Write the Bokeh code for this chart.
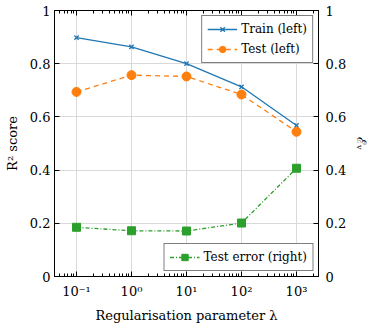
from bokeh.plotting import figure
from bokeh.models import (Range1d, LinearAxis, LogAxis, FixedTicker, CustomJSTickFormatter,
                          Legend, LegendItem)
from bokeh.embed import file_html
from bokeh.resources import INLINE

lam = [0.1, 1, 10, 100, 1000]
train = [0.898, 0.863, 0.800, 0.713, 0.568]
test = [0.694, 0.757, 0.752, 0.684, 0.544]
err = [0.185, 0.172, 0.171, 0.201, 0.407]
y_ticks = [0, 0.2, 0.4, 0.6, 0.8, 1.0]

FONT = "DejaVu Serif"
BLUE, ORANGE, GREEN = "#1f77b4", "#ff7f0e", "#2ca02c"

p = figure(x_axis_type="log", x_range=Range1d(10 ** -1.4, 10 ** 3.4), y_range=Range1d(0, 1),
           width=372, height=325, min_border_left=54, min_border_right=53,
           min_border_top=10, min_border_bottom=48,
           output_backend="svg", toolbar_location=None)
p.extra_y_ranges = {"right": Range1d(0, 1)}
p.outline_line_color = "black"
p.outline_line_alpha = 1.0

minor = [m * 10 ** k for k in range(-2, 4) for m in range(2, 10)]
xt = FixedTicker(ticks=lam, minor_ticks=minor)
yt = FixedTicker(ticks=y_ticks)

sup_js = """
const sup = {'-':'\u207b','0':'\u2070','1':'\u00b9','2':'\u00b2','3':'\u00b3','4':'\u2074','5':'\u2075','6':'\u2076','7':'\u2077','8':'\u2078','9':'\u2079'};
const e = Math.round(Math.log10(tick));
return '10' + String(e).split('').map(c => sup[c]).join('');
"""

def style(ax, minor_len):
    ax.major_tick_in = 5
    ax.major_tick_out = 0
    ax.minor_tick_in = minor_len
    ax.minor_tick_out = 0
    ax.axis_line_color = "black"
    ax.major_tick_line_color = "black"
    ax.minor_tick_line_color = "black"
    ax.major_label_text_font = FONT
    ax.major_label_text_font_size = "13px"
    ax.major_label_text_color = "black"
    ax.axis_label_text_font = FONT
    ax.axis_label_text_font_size = "13px"
    ax.axis_label_text_font_style = "normal"
    ax.axis_label_text_color = "black"

xa = p.xaxis[0]
xa.ticker = xt
xa.formatter = CustomJSTickFormatter(code=sup_js)
xa.axis_label = "Regularisation parameter \u03bb"
style(xa, 3)
xa.major_label_standoff = 7
xa.axis_label_standoff = 6

ya = p.yaxis[0]
ya.ticker = yt
ya.axis_label = "R\u00b2 score"
style(ya, 0)
ya.major_label_standoff = 4
ya.axis_label_standoff = 7

top = LogAxis(ticker=xt, formatter=CustomJSTickFormatter(code="return '';"))
style(top, 3)
top.major_label_standoff = 0
top.major_label_text_font_size = "1px"
p.add_layout(top, "above")

ra = LinearAxis(y_range_name="right", ticker=yt, axis_label="\u2130\u1d65")
style(ra, 0)
ra.major_label_standoff = 7
ra.axis_label_standoff = 5
p.add_layout(ra, "right")

p.xgrid.ticker = xt
p.ygrid.ticker = yt
p.xgrid.grid_line_color = "#d9d9d9"
p.ygrid.grid_line_color = "#d9d9d9"

l1 = p.line(lam, train, color=BLUE, line_width=1.3)
m1 = p.scatter(lam, train, marker="x", size=6, color=BLUE, line_width=1.3)
l2 = p.line(lam, test, color=ORANGE, line_width=1.3, line_dash="5 4")
m2 = p.scatter(lam, test, marker="circle", size=9, color=ORANGE)
l3 = p.line(lam, err, color=GREEN, line_width=1.3, line_dash="4 2 1 2", y_range_name="right")
m3 = p.scatter(lam, err, marker="square", size=8, color=GREEN, y_range_name="right")

def mk_legend(items, loc):
    lg = Legend(items=items, location=loc)
    lg.border_line_color = "black"
    lg.border_line_width = 1
    lg.background_fill_alpha = 1.0
    lg.label_text_font = FONT
    lg.label_text_font_size = "12px"
    lg.label_text_color = "black"
    lg.glyph_width = 30
    lg.glyph_height = 16
    lg.label_height = 16
    lg.spacing = 4
    lg.padding = 5
    lg.margin = 5
    lg.label_standoff = 4
    return lg

p.add_layout(mk_legend([LegendItem(label="Train (left)", renderers=[l1, m1]),
                        LegendItem(label="Test (left)", renderers=[l2, m2])], "top_right"))
p.add_layout(mk_legend([LegendItem(label="Test error (right)", renderers=[l3, m3])], "bottom_right"))

open("out.html", "w").write(file_html(p, INLINE))
